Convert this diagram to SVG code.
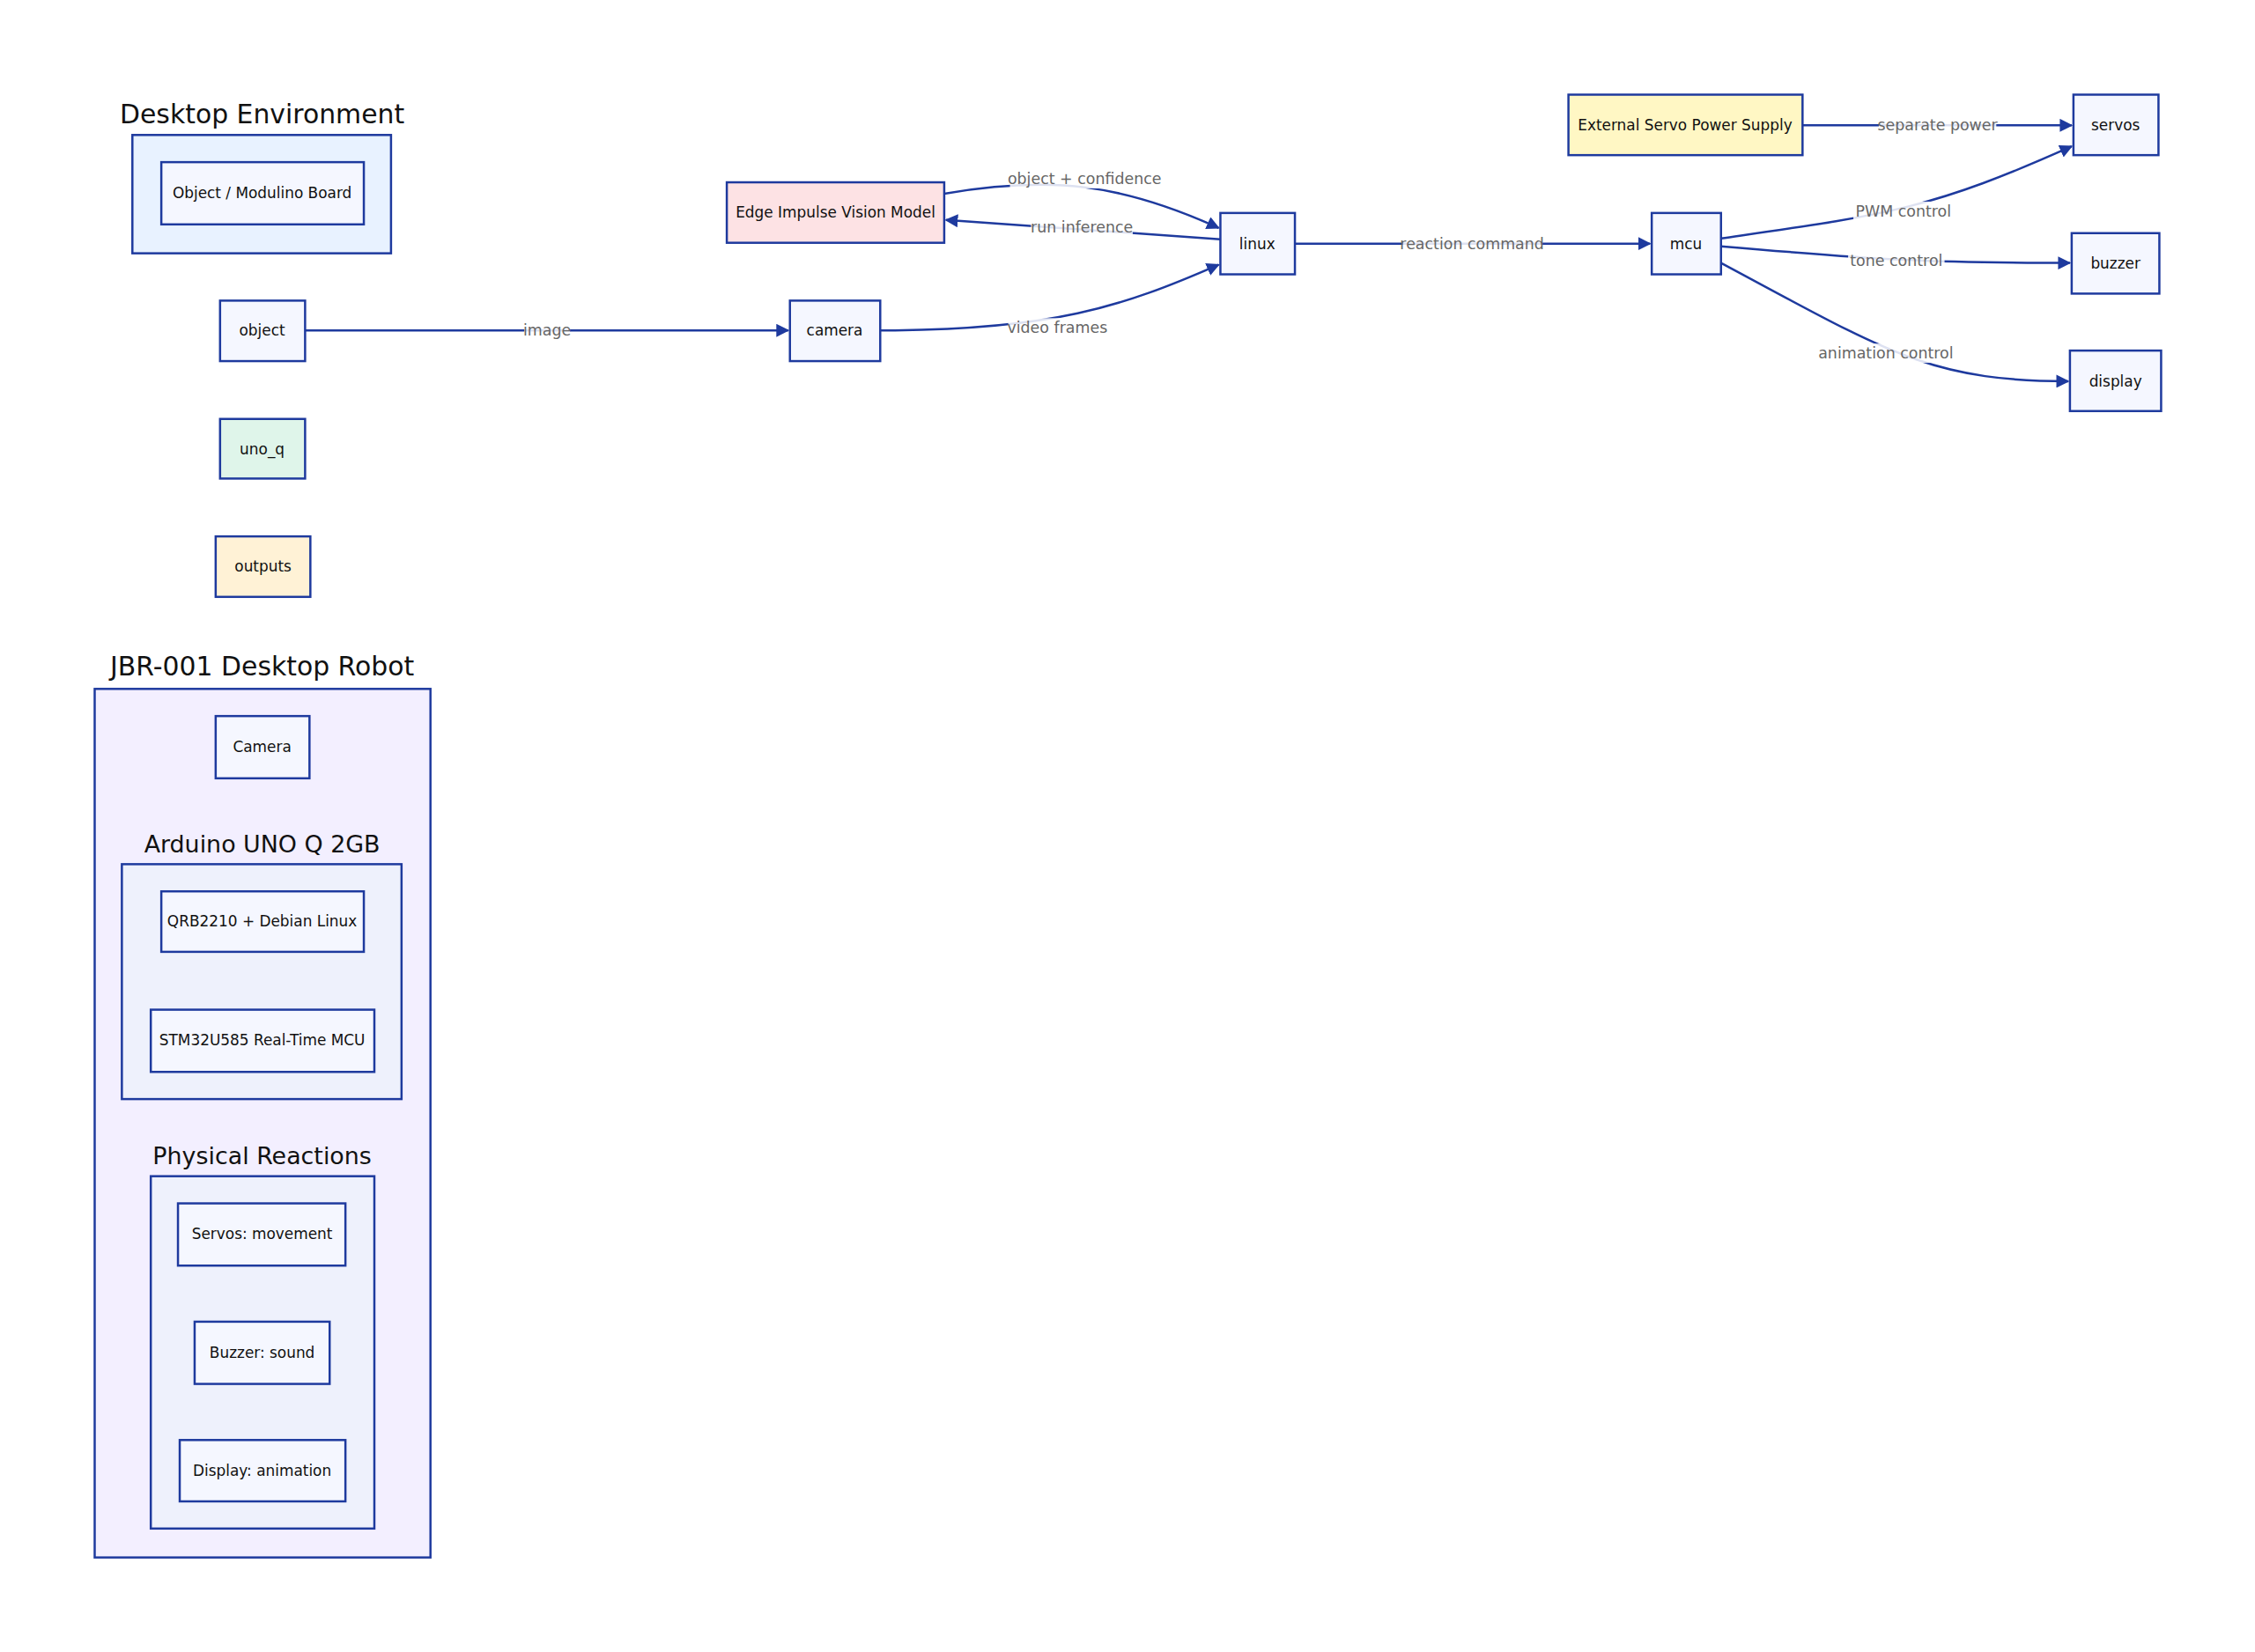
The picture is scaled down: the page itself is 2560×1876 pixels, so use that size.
<svg xmlns="http://www.w3.org/2000/svg" width="2560" height="1876" viewBox="0 0 2560 1876">
<style>
text{font-family:"DejaVu Sans",sans-serif;text-anchor:middle;dominant-baseline:central}
.n{fill:#f5f7ff;stroke:#1e3a9e;stroke-width:2.5}
.c{stroke:#1e3a9e;stroke-width:2.5}
.t{font-size:17px;fill:#111}
.h{font-size:30px;fill:#111}
.e{fill:none;stroke:#1e3a9e;stroke-width:2.5;marker-end:url(#a)}
.l{font-size:17.5px;fill:#666}
.lb{fill:#fff;opacity:0.85}
</style>
<defs><marker id="a" viewBox="0 0 10 10" refX="9" refY="5" markerWidth="6" markerHeight="6" orient="auto"><path d="M0,0L10,5L0,10z" fill="#1e3a9e"/></marker></defs>
<rect width="2560" height="1876" fill="#fff"/>
<g transform="scale(0.9953)">
<g id="desktop-env"><rect class="c" x="151" y="154" width="295" height="135" fill="#e8f2ff"/><text class="h" x="299" y="130">Desktop Environment</text></g>
<g id="jbr"><rect class="c" x="108" y="786" width="383" height="991" fill="#f3efff"/><text class="h" x="299" y="760">JBR-001 Desktop Robot</text></g>
<g id="arduino"><rect class="c" x="139" y="986" width="319" height="268" fill="#eef1fc"/><text class="h" x="299" y="963" style="font-size:27px">Arduino UNO Q 2GB</text></g>
<g id="phys"><rect class="c" x="172" y="1342" width="255" height="402" fill="#eef1fc"/><text class="h" x="299" y="1319" style="font-size:27px">Physical Reactions</text></g>
<g id="board"><rect class="n" x="184" y="185" width="231" height="71"/><text class="t" x="299" y="220">Object / Modulino Board</text></g>
<g id="object"><rect class="n" x="251" y="343" width="97" height="69"/><text class="t" x="299" y="377">object</text></g>
<g id="uno_q"><rect class="n" x="251" y="478" width="97" height="68" style="fill:#dff5ea"/><text class="t" x="299" y="512">uno_q</text></g>
<g id="outputs"><rect class="n" x="246" y="612" width="108" height="69" style="fill:#fff2d6"/><text class="t" x="300" y="646">outputs</text></g>
<g id="cam2"><rect class="n" x="246" y="817" width="107" height="71"/><text class="t" x="299" y="852">Camera</text></g>
<g id="qrb"><rect class="n" x="184" y="1017" width="231" height="69"/><text class="t" x="299" y="1051">QRB2210 + Debian Linux</text></g>
<g id="stm"><rect class="n" x="172" y="1152" width="255" height="71"/><text class="t" x="299" y="1187">STM32U585 Real-Time MCU</text></g>
<g id="sv"><rect class="n" x="203" y="1373" width="191" height="71"/><text class="t" x="299" y="1408">Servos: movement</text></g>
<g id="bz"><rect class="n" x="222" y="1508" width="154" height="71"/><text class="t" x="299" y="1543">Buzzer: sound</text></g>
<g id="dp"><rect class="n" x="205" y="1643" width="189" height="70"/><text class="t" x="299" y="1678">Display: animation</text></g>
<g id="edge"><rect class="n" x="829" y="208" width="248" height="69" style="fill:#fde2e4"/><text class="t" x="953" y="242">Edge Impulse Vision Model</text></g>
<g id="camera"><rect class="n" x="901" y="343" width="103" height="69"/><text class="t" x="952" y="377">camera</text></g>
<g id="linux"><rect class="n" x="1392" y="243" width="85" height="70"/><text class="t" x="1434" y="278">linux</text></g>
<g id="mcu"><rect class="n" x="1884" y="243" width="79" height="70"/><text class="t" x="1923" y="278">mcu</text></g>
<g id="ext"><rect class="n" x="1789" y="108" width="267" height="69" style="fill:#fff7c4"/><text class="t" x="1922" y="143">External Servo Power Supply</text></g>
<g id="servos"><rect class="n" x="2365" y="108" width="97" height="69"/><text class="t" x="2413" y="143">servos</text></g>
<g id="buzzer"><rect class="n" x="2363" y="266" width="100" height="69"/><text class="t" x="2413" y="300">buzzer</text></g>
<g id="display"><rect class="n" x="2361" y="400" width="104" height="69"/><text class="t" x="2413" y="435">display</text></g>
<g id="connectors">
<path class="e" d="M348,377H899"/>
<path class="e" d="M1004,377C1200,377 1280,350 1390,302"/>
<path class="e" d="M1077,221C1200,200 1280,210 1390,260"/>
<path class="e" d="M1392,273L1079,251"/>
<path class="e" d="M1477,278H1882"/>
<path class="e" d="M2056,143H2363"/>
<path class="e" d="M1963,272C2150,245 2200,240 2363,167"/>
<path class="e" d="M1963,281C2150,297 2200,300 2361,300"/>
<path class="e" d="M1963,300C2150,400 2200,435 2359,435"/>
<rect class="lb" x="598" y="366" width="52" height="22"/><text class="l" x="624" y="377">image</text>
<rect class="lb" x="1150" y="363" width="112" height="22"/><text class="l" x="1206" y="374">video frames</text>
<rect class="lb" x="1152" y="193" width="170" height="22"/><text class="l" x="1237" y="204">object + confidence</text>
<rect class="lb" x="1176" y="248" width="116" height="22"/><text class="l" x="1234" y="259">run inference</text>
<rect class="lb" x="1600" y="267" width="158" height="22"/><text class="l" x="1679" y="278">reaction command</text>
<rect class="lb" x="2143" y="132" width="134" height="22"/><text class="l" x="2210" y="143">separate power</text>
<rect class="lb" x="2114" y="230" width="114" height="22"/><text class="l" x="2171" y="241">PWM control</text>
<rect class="lb" x="2108" y="286" width="110" height="22"/><text class="l" x="2163" y="297">tone control</text>
<rect class="lb" x="2074" y="392" width="154" height="22"/><text class="l" x="2151" y="403">animation control</text>
</g>
</g>
</svg>
